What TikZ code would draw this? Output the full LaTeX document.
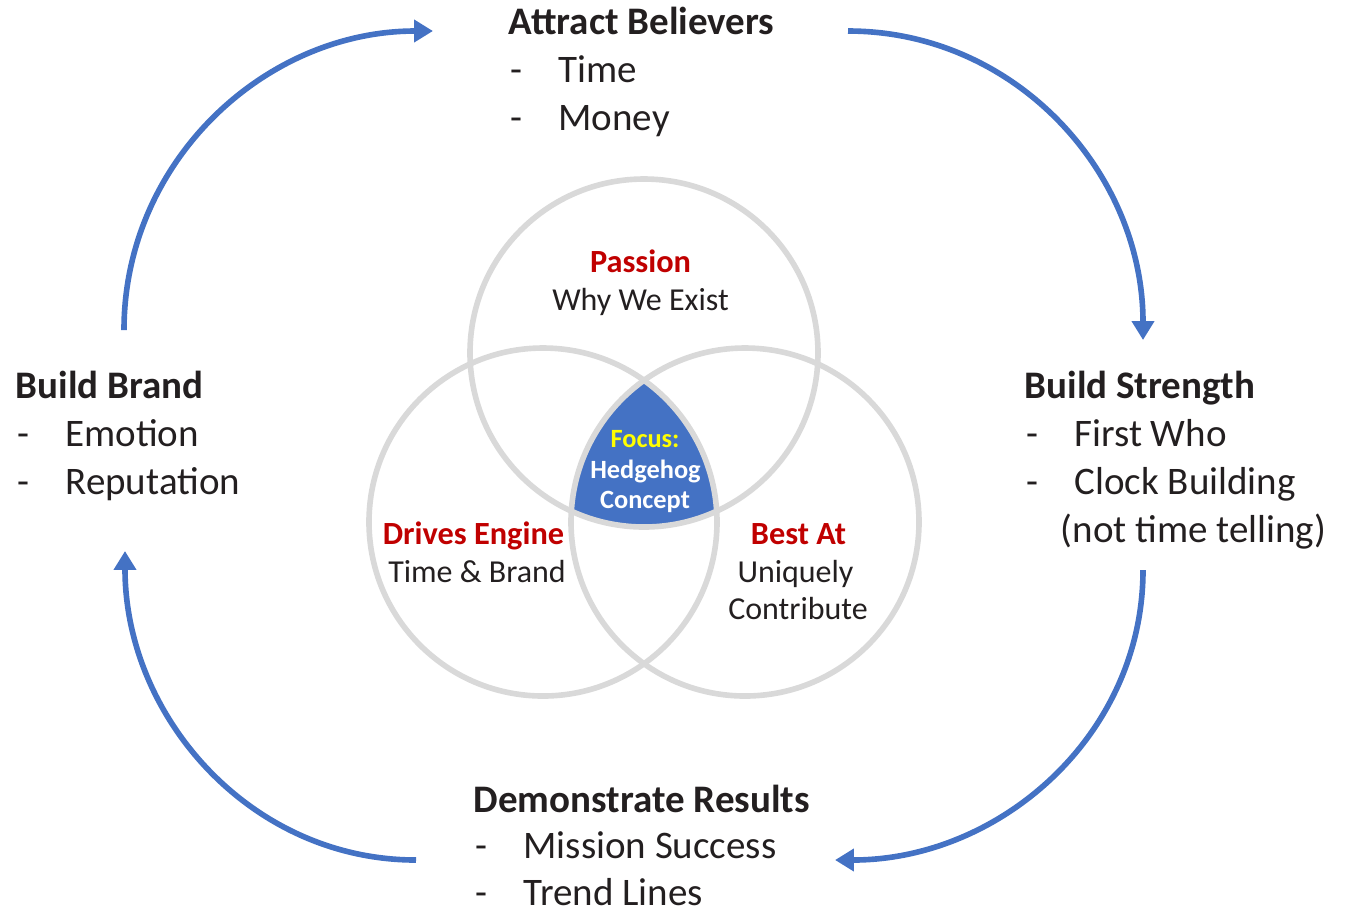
\documentclass[tikz,border=0pt]{standalone}
\usepackage{fontspec}
\setmainfont{Carlito}
\usepackage{tikz}
\usetikzlibrary{arrows.meta}
\definecolor{cycleblue}{HTML}{4472C4}
\definecolor{ringgray}{HTML}{D9D9D9}
\definecolor{labelred}{HTML}{C00000}
\definecolor{focusyellow}{HTML}{FFFF00}
\definecolor{inkgray}{HTML}{231F20}
\newcommand{\itemdash}{\makebox[13.6pt][l]{-}}

\begin{document}
\begin{tikzpicture}[
        headline/.style={anchor=base west, inner sep=0pt, text=inkgray, font=\fontsize{11.1}{13.7}\selectfont\bfseries},
        entryline/.style={anchor=base west, inner sep=0pt, text=inkgray, font=\fontsize{11.1}{13.7}\selectfont},
        ringtitle/.style={anchor=base, inner sep=0pt, text=labelred, font=\fontsize{9.2}{10.5}\selectfont\bfseries},
        ringtext/.style={anchor=base, inner sep=0pt, text=inkgray, font=\fontsize{9.1}{10.5}\selectfont},
        focustext/.style={anchor=base, inner sep=0pt, text=white, font=\fontsize{7.5}{9}\selectfont\bfseries},
        ringline/.style={draw=ringgray, line width=1.6pt},
        cyclearrow/.style={draw=cycleblue, line width=1.6pt, -{Triangle[length=5.4pt,width=6.2pt]}}
    ]
        \useasboundingbox (0,0) rectangle (13.48,-9.11);
        % Circle centres
        \coordinate (passion) at (6.44,-3.53);
        \coordinate (drives) at (5.43,-5.22);
        \coordinate (best) at (7.45,-5.22);
        % Shared part of the three circles
        \begin{scope}
            \clip (passion) circle (1.74);
            \clip (drives) circle (1.74);
            \fill[cycleblue] (best) circle (1.74);
        \end{scope}
        \draw[ringline] (passion) circle (1.74);
        \draw[ringline] (drives) circle (1.74);
        \draw[ringline] (best) circle (1.74);
        % Labels inside the circles
        \node[ringtitle] (passion-t) at (6.405,-2.72) {Passion};
        \node[ringtext] (passion-1) at (6.405,-3.10) {Why We Exist};
        \node[ringtitle] (drives-t) at (4.735,-5.44) {Drives Engine};
        \node[ringtext] (drives-1) at (4.77,-5.82) {Time \& Brand};
        \node[ringtitle] (best-t) at (7.985,-5.44) {Best At};
        \node[ringtext] (best-1) at (7.955,-5.82) {Uniquely};
        \node[ringtext] (best-2) at (7.98,-6.19) {Contribute};
        \node[focustext, text=focusyellow] (focus-t) at (6.45,-4.47) {Focus:};
        \node[focustext] (focus-1) at (6.455,-4.78) {Hedgehog};
        \node[focustext] (focus-2) at (6.45,-5.08) {Concept};
        % Outer steps
        \node[headline] (attract) at (5.08,-0.34) {Attract Believers};
        \node[entryline] (attract-1) at (5.10,-0.82) {\itemdash Time};
        \node[entryline] (attract-2) at (5.10,-1.30) {\itemdash Money};
        \node[headline] (strength) at (10.24,-3.98) {Build Strength};
        \node[entryline] (strength-1) at (10.26,-4.46) {\itemdash First Who};
        \node[entryline] (strength-2) at (10.26,-4.94) {\itemdash Clock Building};
        \node[entryline] (strength-3) at (10.60,-5.42) {(not time telling)};
        \node[headline] (results) at (4.73,-8.12) {Demonstrate Results};
        \node[entryline] (results-1) at (4.75,-8.58) {\itemdash Mission Success};
        \node[entryline] (results-2) at (4.75,-9.05) {\itemdash Trend Lines};
        \node[headline] (brand) at (0.15,-3.98) {Build Brand};
        \node[entryline] (brand-1) at (0.17,-4.46) {\itemdash Emotion};
        \node[entryline] (brand-2) at (0.17,-4.94) {\itemdash Reputation};
        % Arrow ends
        \coordinate (brand-out) at (1.24,-3.30);
        \coordinate (attract-in) at (4.33,-0.31);
        \coordinate (attract-out) at (8.48,-0.31);
        \coordinate (strength-in) at (11.43,-3.40);
        \coordinate (strength-out) at (11.43,-5.70);
        \coordinate (results-in) at (8.35,-8.60);
        \coordinate (results-out) at (4.16,-8.60);
        \coordinate (brand-in) at (1.25,-5.51);
        % Cycle arrows
        \draw[cyclearrow] (brand-out) to[out=90, in=180] (attract-in);
        \draw[cyclearrow] (attract-out) to[out=0, in=90] (strength-in);
        \draw[cyclearrow] (strength-out) to[out=-90, in=0] (results-in);
        \draw[cyclearrow] (results-out) to[out=180, in=-90] (brand-in);
    \end{tikzpicture}
\end{document}
